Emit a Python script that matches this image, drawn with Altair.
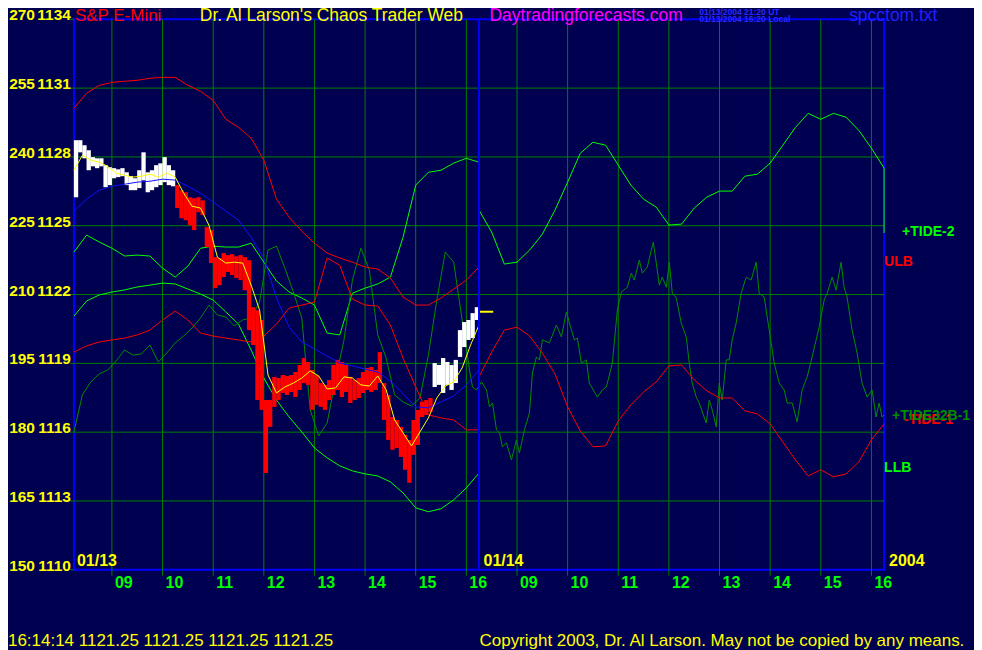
import altair as alt
import pandas as pd

BG = "#000050"
YEL = "#ffff00"
GRID = "#008000"
LIME = "#00ff00"
DKGREEN = "#008c00"
RED = "#ff0000"
BLUE = "#0000ff"
FONT = "Liberation Sans, Arial, sans-serif"

# ---------------- axis data ----------------
price_ticks = [1110, 1113, 1116, 1119, 1122, 1125, 1128, 1131, 1134]
index_ticks = [150, 165, 180, 195, 210, 225, 240, 255, 270]
grid_prices = [1113, 1116, 1119, 1122, 1125, 1128, 1131]
# hours since 08:15 on 01/13 (session 08:15-16:15, two sessions)
hour_pos = [0.75, 1.75, 2.75, 3.75, 4.75, 5.75, 6.75, 7.75,
            8.75, 9.75, 10.75, 11.75, 12.75, 13.75, 14.75, 15.75]
hour_labels = ["09", "10", "11", "12", "13", "14", "15", "16"] * 2
day_break = [8.0]
last_price = 1121.25

# ---------------- series (15-minute samples) ----------------
t_day1 = [i * 0.25 for i in range(33)]
t_day2 = [8 + i * 0.25 for i in range(33)]

ulb = [1130.12, 1130.78, 1131.12, 1131.25, 1131.30, 1131.34, 1131.43, 1131.47, 1131.47,
       1131.12, 1130.86, 1130.47, 1129.64, 1129.29, 1128.82, 1127.86, 1126.16, 1125.37,
       1124.76, 1124.24, 1123.81, 1123.59, 1123.41, 1123.20, 1123.11, 1122.72, 1121.89,
       1121.54, 1121.54, 1121.85, 1122.24, 1122.63, 1123.20]
llb = [1121.06, 1121.72, 1121.98, 1122.11, 1122.20, 1122.33, 1122.41, 1122.50, 1122.46,
       1122.24, 1122.02, 1121.76, 1121.24, 1120.71, 1119.58, 1118.36, 1117.40, 1116.66,
       1116.01, 1115.31, 1114.88, 1114.53, 1114.31, 1114.18, 1114.09, 1113.83, 1113.35,
       1112.70, 1112.53, 1112.66, 1113.05, 1113.57, 1114.22]
blue_avg = [1125.64, 1126.16, 1126.55, 1126.72, 1126.81, 1126.90, 1126.94, 1127.03, 1126.99,
            1126.72, 1126.42, 1126.03, 1125.64, 1125.24, 1124.50, 1123.59, 1121.85, 1120.58,
            1119.93, 1119.63, 1119.32, 1119.02, 1118.89, 1118.75, 1118.62, 1118.23, 1117.67,
            1117.10, 1117.06, 1117.32, 1117.58, 1118.06, 1118.71]
tide1_day1 = [1119.49, 1119.76, 1119.93, 1120.02, 1120.10, 1120.24, 1120.45, 1120.89, 1121.28,
              1120.89, 1120.32, 1120.19, 1120.10, 1120.02, 1119.93, 1120.19, 1120.71, 1121.41,
              1121.54, 1121.67, 1123.59, 1123.28, 1121.80, 1121.54, 1121.50, 1120.67, 1119.23,
              1117.97, 1116.75, 1116.62, 1116.53, 1116.10, 1116.10]
tide1_day2 = [1118.41, 1119.49, 1120.45, 1120.58, 1120.19, 1119.45, 1118.54, 1117.10, 1116.05,
              1115.36, 1115.40, 1116.49, 1117.19, 1117.75, 1118.19, 1118.89, 1118.93, 1118.28,
              1117.80, 1117.49, 1117.49, 1116.93, 1116.79, 1116.36, 1115.57, 1114.79, 1114.09,
              1114.36, 1114.05, 1114.18, 1114.70, 1115.66, 1116.36]
tide2_day1 = [1123.85, 1124.59, 1124.29, 1124.02, 1123.68, 1123.72, 1123.68, 1123.15, 1122.76,
              1123.24, 1124.02, 1124.11, 1124.07, 1124.07, 1124.24, 1123.41, 1122.59, 1122.11,
              1121.85, 1121.54, 1120.32, 1120.24, 1122.06, 1122.28, 1122.46, 1122.76, 1124.50,
              1126.77, 1127.33, 1127.42, 1127.73, 1127.94, 1127.77]
tide2_day2 = [1125.68, 1124.72, 1123.33, 1123.41, 1123.94, 1124.63, 1125.68, 1126.90, 1128.16,
              1128.64, 1128.51, 1127.64, 1126.77, 1126.16, 1125.81, 1125.03, 1125.07, 1125.77,
              1126.25, 1126.51, 1126.51, 1127.16, 1127.25, 1127.73, 1128.51, 1129.29, 1129.90,
              1129.64, 1129.90, 1129.73, 1129.16, 1128.38, 1127.51]
tide2_end = 1124.68

# ---------------- TIDE32B-1 (10-minute samples day 1, traced points after) ----------------
t32_t1 = [i / 6 for i in range(47)]
t32_v1 = [1116.01, 1117.62, 1118.19, 1118.54, 1118.71, 1119.10, 1119.58, 1119.36, 1119.41, 1119.80,
          1119.06, 1119.45, 1119.89, 1120.19, 1120.54, 1120.98, 1121.54, 1121.11, 1121.02, 1120.63,
          1120.89, 1120.98, 1121.67, 1123.94, 1124.11, 1123.15, 1122.11, 1120.98, 1116.97, 1115.84,
          1116.40, 1118.28, 1120.02, 1122.63, 1124.02, 1123.07, 1120.24, 1119.23, 1117.62, 1117.32,
          1117.14, 1117.49, 1119.36, 1121.76, 1123.85, 1123.41, 1120.89]
t32_t2 = [7.812, 7.871, 7.950, 8.049, 8.148, 8.207, 8.266, 8.345, 8.404, 8.463, 8.542, 8.641,
          8.739, 8.798, 8.897, 8.996, 9.055, 9.134, 9.193, 9.252, 9.390, 9.528, 9.627, 9.726,
          9.785, 9.884, 9.943, 10.022, 10.120, 10.179, 10.337, 10.436, 10.515, 10.633, 10.732,
          10.811, 10.929, 11.008, 11.067, 11.166, 11.225, 11.324, 11.403, 11.442, 11.501, 11.561,
          11.620, 11.699, 11.758, 11.817, 11.896, 11.994, 12.093, 12.152, 12.211, 12.290, 12.349,
          12.487, 12.547, 12.606, 12.685, 12.744, 12.803, 12.882, 12.941, 13.000, 13.079, 13.178,
          13.277, 13.375, 13.474, 13.533, 13.632, 13.731, 13.830, 13.928, 14.027, 14.086, 14.185,
          14.283, 14.382, 14.481, 14.579, 14.717, 14.816, 14.875, 14.974, 15.052, 15.151, 15.210,
          15.269, 15.368, 15.467, 15.565, 15.664, 15.763, 15.841, 15.901, 15.960, 16.0]
t32_v2 = [1118.71, 1117.97, 1117.84, 1118.19, 1117.84, 1117.10, 1117.27, 1116.10, 1115.97, 1115.36,
          1115.53, 1114.79, 1115.66, 1115.10, 1116.10, 1116.84, 1118.58, 1119.28, 1119.15, 1120.02,
          1119.89, 1120.67, 1120.15, 1121.24, 1120.76, 1120.02, 1120.10, 1119.01, 1119.15, 1118.14,
          1117.53, 1117.84, 1117.97, 1119.01, 1121.32, 1122.11, 1122.32, 1122.93, 1122.63, 1123.50,
          1122.93, 1123.20, 1123.94, 1124.28, 1123.37, 1122.41, 1122.76, 1122.32, 1123.41, 1122.06,
          1121.85, 1120.76, 1120.15, 1119.01, 1118.14, 1117.53, 1117.27, 1116.40, 1117.40, 1116.97,
          1116.23, 1118.14, 1117.40, 1119.15, 1119.15, 1120.02, 1120.76, 1122.06, 1122.76, 1122.63,
          1123.41, 1122.06, 1121.89, 1120.45, 1119.01, 1118.14, 1117.84, 1117.27, 1117.27, 1116.45,
          1117.84, 1118.41, 1119.28, 1120.58, 1121.76, 1122.06, 1122.76, 1122.19, 1123.41, 1122.32,
          1121.89, 1120.45, 1119.45, 1118.14, 1117.53, 1117.84, 1116.66, 1117.27, 1116.66, 1116.75]

# ---------------- fast average (10-minute samples) ----------------
t_ma = [i / 6 for i in range(49)]
yellow_avg = [1127.42, 1128.07, 1127.86, 1127.77, 1127.59, 1127.29, 1127.20, 1127.12, 1127.16, 1127.25,
              1127.12, 1127.29, 1127.12, 1126.42, 1125.85, 1125.77, 1125.02, 1123.63, 1123.37, 1123.41,
              1123.37, 1122.41, 1121.32, 1118.49, 1117.71, 1117.97, 1118.14, 1118.36, 1118.67, 1118.45,
              1117.88, 1117.93, 1118.41, 1118.36, 1118.06, 1118.01, 1118.45, 1117.84, 1116.53, 1115.97,
              1115.40, 1116.01, 1116.62, 1117.49, 1118.01, 1118.19, 1118.80, 1119.80, 1120.67]

# ---------------- 5-minute price bars ----------------
t_bar = [(i + 0.5) / 12 for i in range(96)]
bar_hi = [1128.73, 1128.73, 1128.51, 1128.29, 1127.99, 1127.94, 1127.94, 1127.64, 1127.55, 1127.51,
          1127.46, 1127.51, 1127.33, 1127.16, 1127.07, 1127.42, 1128.20, 1127.33, 1127.42, 1127.64,
          1127.72, 1127.99, 1127.64, 1127.42,
          1126.77, 1126.55, 1126.46, 1126.24, 1126.20, 1126.24, 1126.11, 1124.94, 1124.81, 1123.63,
          1123.59, 1123.81, 1123.72, 1123.76, 1123.67, 1123.72, 1123.63, 1123.50, 1121.45, 1121.32,
          1120.89, 1117.40, 1117.40, 1118.41, 1118.36, 1118.49, 1118.45, 1118.49, 1118.62, 1118.93,
          1119.23, 1119.06, 1118.71, 1118.49, 1118.14, 1118.06, 1118.27, 1118.93, 1119.15, 1119.06,
          1118.93, 1118.41, 1118.27, 1118.36, 1118.62, 1118.80, 1118.84, 1118.71, 1119.49, 1118.14,
          1117.62, 1116.66, 1116.53, 1116.23, 1115.88, 1115.66, 1116.53, 1116.97, 1117.32, 1117.40,
          1117.49,
          1119.01, 1118.93, 1119.23, 1119.06, 1118.93, 1119.15, 1120.45, 1120.80, 1120.89, 1121.19,
          1121.45]
bar_lo = [1126.24, 1128.20, 1127.94, 1127.42, 1127.59, 1127.51, 1127.59, 1126.68, 1126.77, 1127.07,
          1127.12, 1127.16, 1126.77, 1126.55, 1126.55, 1126.64, 1126.98, 1126.46, 1126.55, 1126.68,
          1126.77, 1126.90, 1126.77, 1126.72,
          1125.77, 1125.33, 1125.24, 1125.02, 1124.81, 1125.59, 1125.46, 1124.07, 1123.37, 1122.28,
          1122.41, 1122.76, 1122.98, 1122.85, 1122.72, 1122.63, 1122.19, 1120.45, 1119.80, 1117.40,
          1116.97, 1114.22, 1116.23, 1117.10, 1117.40, 1117.71, 1117.62, 1117.75, 1117.53, 1117.84,
          1118.14, 1118.06, 1116.97, 1117.19, 1117.10, 1116.97, 1117.40, 1117.62, 1117.84, 1117.53,
          1117.75, 1117.27, 1117.40, 1117.49, 1117.71, 1117.84, 1117.75, 1117.84, 1118.14, 1116.53,
          1115.66, 1115.23, 1115.31, 1114.92, 1114.36, 1113.79, 1115.01, 1115.44, 1116.66, 1116.75,
          1116.88,
          1117.97, 1118.06, 1117.71, 1118.06, 1117.84, 1118.14, 1119.28, 1119.71, 1120.02, 1120.10,
          1120.89]
bar_state = ["up"] * 24 + ["down"] * 61 + ["up"] * 11

# ---------------- chart ----------------
xs = alt.Scale(domain=[0, 16], nice=False, zero=False)
ys = alt.Scale(domain=[1110, 1134], nice=False, zero=False)
X = lambda f="t": alt.X(f + ":Q", scale=xs, axis=None)
Y = lambda f="v": alt.Y(f + ":Q", scale=ys, axis=None)


def line(times, vals, color, width=1.0):
    df = pd.DataFrame({"t": times, "v": vals, "i": list(range(len(vals)))})
    return alt.Chart(df).mark_line(color=color, strokeWidth=width).encode(
        x=X(), y=Y(), order="i:Q")


def txt(s, x, y, color, size, weight="normal", align="left"):
    return alt.Chart(pd.DataFrame({"s": [s]})).mark_text(
        align=align, baseline="alphabetic", color=color, fontSize=size,
        fontWeight=weight, font=FONT, x=x, y=y).encode(text="s:N")


hgrid = alt.Chart(pd.DataFrame({"v": grid_prices})).mark_rule(
    color=GRID, strokeWidth=1).encode(y=Y())
vgrid = alt.Chart(pd.DataFrame({"t": hour_pos})).mark_rule(
    color=GRID, strokeWidth=1).encode(x=X())
bticks = alt.Chart(pd.DataFrame({"t": hour_pos})).mark_rule(
    color=GRID, strokeWidth=1).encode(x=X(), y=alt.value(551), y2=alt.value(557))
lticks = alt.Chart(pd.DataFrame({"v": price_ticks})).mark_rule(
    color=GRID, strokeWidth=1).encode(y=Y(), x=alt.value(-4), x2=alt.value(0))

tide2 = line(t_day1 + t_day2 + [16.0], tide2_day1 + tide2_day2 + [tide2_end], LIME)
llb_l = line(t_day1, llb, LIME)
t32 = line(t32_t1 + t32_t2, t32_v1 + t32_v2, DKGREEN)
ulb_l = line(t_day1, ulb, RED)
tide1 = line(t_day1 + t_day2, tide1_day1 + tide1_day2, RED)

bars = alt.Chart(pd.DataFrame({"t": t_bar, "hi": bar_hi, "lo": bar_lo, "c": bar_state})).mark_rule(
    strokeWidth=4.3).encode(
    x=X(), y=Y("hi"), y2="lo:Q",
    color=alt.Color("c:N", scale=alt.Scale(domain=["up", "down"], range=["#ffffff", RED]), legend=None))

blue_l = line(t_day1, blue_avg, "#1010ff")
yel_l = line(t_ma, yellow_avg, YEL)
lastp = line([8.0, 8.28], [last_price, last_price], YEL, 2)
dbreak = alt.Chart(pd.DataFrame({"t": day_break})).mark_rule(
    color=BLUE, strokeWidth=2).encode(x=X())

idx_lab = alt.Chart(pd.DataFrame({"v": price_ticks, "s": [str(a) for a in index_ticks]})).mark_text(
    align="right", baseline="alphabetic", color=YEL, fontSize=15.5, fontWeight="bold",
    font=FONT, dy=1).encode(y=Y(), x=alt.value(-39), text="s:N")
prc_lab = alt.Chart(pd.DataFrame({"v": price_ticks, "s": [str(a) for a in price_ticks]})).mark_text(
    align="right", baseline="alphabetic", color=YEL, fontSize=15.5, fontWeight="bold",
    font=FONT, dy=1).encode(y=Y(), x=alt.value(-3), text="s:N")
hour_lab = alt.Chart(pd.DataFrame({"t": hour_pos, "s": hour_labels})).mark_text(
    align="left", baseline="alphabetic", color=LIME, fontSize=16, fontWeight="bold",
    font=FONT, dx=3).encode(x=X(), y=alt.value(569), text="s:N")

texts = [
    txt("S&P E-Mini", 1, 1.5, RED, 17),
    txt("Dr. Al Larson's Chaos Trader Web", 126, 1.5, YEL, 17.5),
    txt("Daytradingforecasts.com", 416, 1.5, "#ff00ff", 17.5),
    txt("01/13/2004 21:20 UT", 626, -4.5, "#2a2aff", 8.5, "bold"),
    txt("01/13/2004 16:20 Local", 626, 2.5, "#2a2aff", 8.5, "bold"),
    txt("spcctom.txt", 776, 1.5, "#2020ff", 17.5),
    txt("01/13", 3, 547, YEL, 16, "bold"),
    txt("01/14", 410, 547, YEL, 16, "bold"),
    txt("2004", 816, 547, YEL, 16, "bold"),
    txt("+TIDE-2", 829, 217, LIME, 14, "bold"),
    txt("ULB", 811, 247, RED, 14, "bold"),
    txt("-TIDE-1", 831, 405, RED, 14, "bold"),
    txt("+TIDE32B-1", 819, 401, DKGREEN, 14, "bold"),
    txt("LLB", 811, 453, LIME, 14, "bold"),
    txt("16:14:14  1121.25 1121.25 1121.25 1121.25", -66, 627, YEL, 17),
    txt("Copyright 2003, Dr. Al Larson. May not be copied by any means.", 406, 627, YEL, 17),
]

chart = alt.layer(
    hgrid, vgrid, bticks, lticks,
    tide2, llb_l, t32, ulb_l, tide1,
    bars, blue_l, yel_l, lastp, dbreak,
    idx_lab, prc_lab, hour_lab, *texts
).properties(
    width=811, height=551,
    padding={"left": 66, "top": 11, "right": 90, "bottom": 80},
    autosize=alt.AutoSizeParams(type="none"),
    background=BG,
).configure_view(stroke=BLUE, strokeWidth=2)

chart.save("out.html", embed_options={"renderer": "svg", "actions": False})
